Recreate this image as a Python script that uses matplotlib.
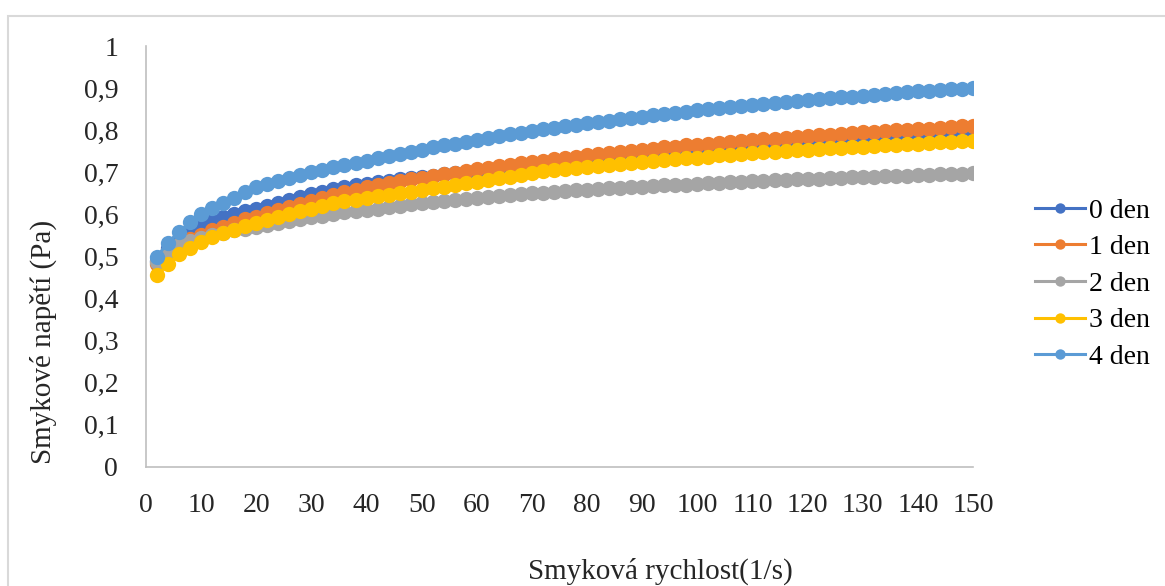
import matplotlib
matplotlib.use('Agg')
import matplotlib.pyplot as plt
from matplotlib.patches import Rectangle
from matplotlib.ticker import FuncFormatter, MultipleLocator

plt.rcParams['font.family'] = ['Liberation Serif', 'DejaVu Serif']

# smyková rychlost (1/s)
shear_rate = [2, 4, 6, 8, 10, 12, 14, 16, 18, 20, 22, 24, 26, 28, 30, 32, 34, 36, 38, 40,
              42, 44, 46, 48, 50, 52, 54, 56, 58, 60, 62, 64, 66, 68, 70, 72, 74, 76, 78, 80,
              82, 84, 86, 88, 90, 92, 94, 96, 98, 100, 102, 104, 106, 108, 110, 112, 114, 116,
              118, 120, 122, 124, 126, 128, 130, 132, 134, 136, 138, 140, 142, 144, 146, 148, 150]

den0 = [0.490, 0.520, 0.542, 0.559, 0.574, 0.585, 0.594, 0.602, 0.608, 0.614, 0.621, 0.628, 0.635,
        0.642, 0.648, 0.654, 0.660, 0.665, 0.669, 0.673, 0.677, 0.680, 0.684, 0.687, 0.690, 0.692,
        0.695, 0.698, 0.700, 0.703, 0.706, 0.708, 0.711, 0.713, 0.715, 0.718, 0.720, 0.722, 0.724,
        0.726, 0.728, 0.731, 0.733, 0.735, 0.737, 0.739, 0.741, 0.743, 0.745, 0.747, 0.749, 0.751,
        0.753, 0.756, 0.758, 0.760, 0.762, 0.764, 0.765, 0.767, 0.769, 0.771, 0.773, 0.774, 0.776,
        0.778, 0.779, 0.781, 0.783, 0.784, 0.786, 0.787, 0.789, 0.790, 0.792]

den1 = [0.482, 0.508, 0.527, 0.541, 0.552, 0.562, 0.571, 0.580, 0.588, 0.595, 0.603, 0.611, 0.618,
        0.625, 0.632, 0.639, 0.646, 0.653, 0.658, 0.664, 0.669, 0.674, 0.679, 0.683, 0.687, 0.691,
        0.695, 0.699, 0.703, 0.707, 0.711, 0.714, 0.718, 0.721, 0.725, 0.728, 0.731, 0.734, 0.737,
        0.740, 0.743, 0.746, 0.749, 0.751, 0.754, 0.756, 0.759, 0.761, 0.764, 0.766, 0.768, 0.770,
        0.772, 0.774, 0.776, 0.778, 0.780, 0.782, 0.784, 0.786, 0.788, 0.789, 0.791, 0.793, 0.795,
        0.796, 0.798, 0.800, 0.801, 0.803, 0.804, 0.806, 0.807, 0.809, 0.810]

den2 = [0.488, 0.512, 0.527, 0.537, 0.545, 0.551, 0.557, 0.562, 0.566, 0.570, 0.575, 0.580, 0.584,
        0.589, 0.593, 0.597, 0.601, 0.605, 0.608, 0.611, 0.614, 0.617, 0.620, 0.624, 0.627, 0.630,
        0.632, 0.635, 0.637, 0.639, 0.641, 0.643, 0.646, 0.648, 0.650, 0.652, 0.654, 0.655, 0.657,
        0.659, 0.660, 0.662, 0.663, 0.665, 0.666, 0.667, 0.669, 0.670, 0.671, 0.673, 0.674, 0.675,
        0.676, 0.678, 0.679, 0.680, 0.681, 0.682, 0.683, 0.684, 0.685, 0.686, 0.687, 0.688, 0.689,
        0.690, 0.691, 0.692, 0.692, 0.693, 0.694, 0.695, 0.696, 0.697, 0.698]

den3 = [0.456, 0.481, 0.505, 0.521, 0.535, 0.546, 0.556, 0.564, 0.572, 0.579, 0.586, 0.593, 0.600,
        0.607, 0.614, 0.620, 0.626, 0.631, 0.635, 0.639, 0.643, 0.647, 0.651, 0.654, 0.658, 0.662,
        0.666, 0.670, 0.674, 0.678, 0.682, 0.686, 0.690, 0.694, 0.698, 0.702, 0.705, 0.707, 0.710,
        0.712, 0.715, 0.717, 0.719, 0.722, 0.724, 0.726, 0.729, 0.731, 0.733, 0.735, 0.737, 0.740,
        0.742, 0.744, 0.746, 0.748, 0.749, 0.751, 0.752, 0.754, 0.755, 0.757, 0.758, 0.760, 0.761,
        0.763, 0.764, 0.765, 0.767, 0.768, 0.769, 0.771, 0.772, 0.774, 0.775]

den4 = [0.500, 0.533, 0.558, 0.581, 0.601, 0.615, 0.628, 0.640, 0.653, 0.664, 0.672, 0.680, 0.687,
        0.694, 0.700, 0.706, 0.712, 0.717, 0.722, 0.728, 0.733, 0.738, 0.743, 0.749, 0.754, 0.759,
        0.764, 0.768, 0.773, 0.777, 0.782, 0.786, 0.790, 0.794, 0.798, 0.802, 0.806, 0.809, 0.813,
        0.816, 0.820, 0.823, 0.826, 0.829, 0.832, 0.835, 0.838, 0.841, 0.844, 0.847, 0.850, 0.853,
        0.855, 0.858, 0.860, 0.863, 0.865, 0.867, 0.869, 0.872, 0.874, 0.876, 0.878, 0.880, 0.882,
        0.884, 0.886, 0.888, 0.890, 0.892, 0.893, 0.895, 0.897, 0.899, 0.900]

labels = ['0 den', '1 den', '2 den', '3 den', '4 den']
colors = ['#4472C4', '#ED7D31', '#A5A5A5', '#FFC000', '#5B9BD5']
series = [den0, den1, den2, den3, den4]

W, H = 1165, 586
fig = plt.figure(figsize=(W / 100, H / 100), dpi=100)
ax = fig.add_axes([146 / W, 1 - 467 / H, (973 - 146) / W, (467 - 46) / H])

for vals, lab, col in zip(series, labels, colors):
    ax.plot(shear_rate, vals, color=col, lw=2.2, marker='o', markersize=11,
            markeredgewidth=0, label=lab)

ax.set_xlim(0, 150)
ax.set_ylim(0, 1)
ax.xaxis.set_major_locator(MultipleLocator(10))
ax.yaxis.set_major_locator(MultipleLocator(0.1))
ax.yaxis.set_major_formatter(FuncFormatter(lambda v, p: ('%g' % round(v, 2)).replace('.', ',')))
ax.tick_params(axis='both', length=0, labelsize=20, colors='#262626')
ax.tick_params(axis='y', pad=20)
ax.tick_params(axis='x', pad=19)
for s in ['top', 'right']:
    ax.spines[s].set_visible(False)
for s in ['left', 'bottom']:
    ax.spines[s].set_color('#BFBFBF')
    ax.spines[s].set_linewidth(1.2)

fig.text(660 / W, 1 - 571 / H, 'Smyková rychlost(1/s)', fontsize=21, ha='center', va='center',
         color='#262626')
fig.text(43 / W, 1 - 342 / H, 'Smykové napětí (Pa)', fontsize=21, ha='center', va='center',
         rotation=90, color='#262626')

fig.legend(loc='center left', bbox_to_anchor=(1035 / W, 1 - 284 / H), frameon=False,
           fontsize=20, handlelength=1.8, handletextpad=0.15, labelspacing=0.4,
           borderpad=0, borderaxespad=0, markerscale=0.68)

# ramecek grafu
fig.patches.append(Rectangle((8 / W, -0.1), 1.2, 1.1 - 16 / H, transform=fig.transFigure,
                             fill=False, edgecolor='#D9D9D9', lw=1.5))

plt.savefig('out.png', dpi=100)
